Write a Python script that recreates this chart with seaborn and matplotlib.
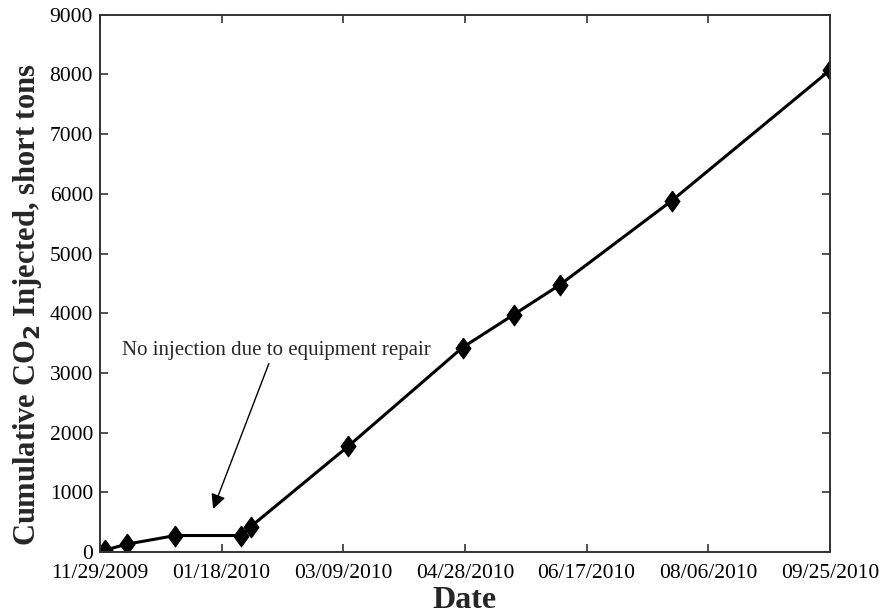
import pandas as pd
import matplotlib
matplotlib.use("Agg")
import matplotlib.pyplot as plt
import matplotlib.dates as mdates
import seaborn as sns

# datas e valores
dates = ["2009-12-01", "2009-12-10", "2009-12-30", "2010-01-26", "2010-01-30",
         "2010-03-11", "2010-04-27", "2010-05-18", "2010-06-06", "2010-07-22",
         "2010-09-25"]
co2_tons = [30, 130, 275, 275, 425, 1770, 3425, 3975, 4475, 5885, 8070]
tick_dates = ["2009-11-29", "2010-01-18", "2010-03-09", "2010-04-28",
              "2010-06-17", "2010-08-06", "2010-09-25"]
y_ticks = [0, 1000, 2000, 3000, 4000, 5000, 6000, 7000, 8000, 9000]

sns.set_style("ticks")
plt.rcParams["font.family"] = ["Liberation Serif", "DejaVu Serif"]

df = pd.DataFrame({"date": pd.to_datetime(dates), "co2": co2_tons})
ticks = pd.to_datetime(tick_dates)

# losango um pouco mais alto que largo
diamond = [(0, 1), (0.72, 0), (0, -1), (-0.72, 0), (0, 1)]

fig = plt.figure(figsize=(8.81, 6.16), dpi=100)
ax = fig.add_axes([0.1135, 0.104, 0.8285, 0.872])

sns.lineplot(data=df, x="date", y="co2", ax=ax, color="black", linewidth=2.2,
             marker=diamond, markersize=15, markerfacecolor="black",
             markeredgecolor="black")

ax.set_xlim(ticks[0], ticks[-1])
ax.set_ylim(0, 9000)
ax.set_xticks(ticks)
ax.xaxis.set_major_formatter(mdates.DateFormatter("%m/%d/%Y"))
ax.set_yticks(y_ticks)

ax.tick_params(direction="in", top=True, right=True, length=6, width=1.2,
               labelsize=15.5, colors="#333333", labelcolor="black")
ax.tick_params(axis="x", pad=9)
ax.tick_params(axis="y", pad=5)
for sp in ax.spines.values():
    sp.set_linewidth(1.4)
    sp.set_color("#333333")

ax.set_xlabel("Date", fontsize=23, fontweight="bold", labelpad=2)
ax.set_ylabel("Cumulative CO$_\\mathbf{2}$ Injected, short tons", fontsize=22,
              fontweight="bold")
ax.yaxis.set_label_coords(-0.077, 0.46)

# anotacao
ax.annotate("No injection due to equipment repair",
            xy=(ticks[0] + pd.Timedelta(days=46.5), 720),
            xytext=(ticks[0] + pd.Timedelta(days=9), 3370),
            fontsize=15, va="center", ha="left",
            arrowprops=dict(arrowstyle="-|>", color="black", lw=1,
                            mutation_scale=22, shrinkA=0, shrinkB=0,
                            relpos=(0.48, 0.0)))

fig.savefig("out.png", dpi=100)
